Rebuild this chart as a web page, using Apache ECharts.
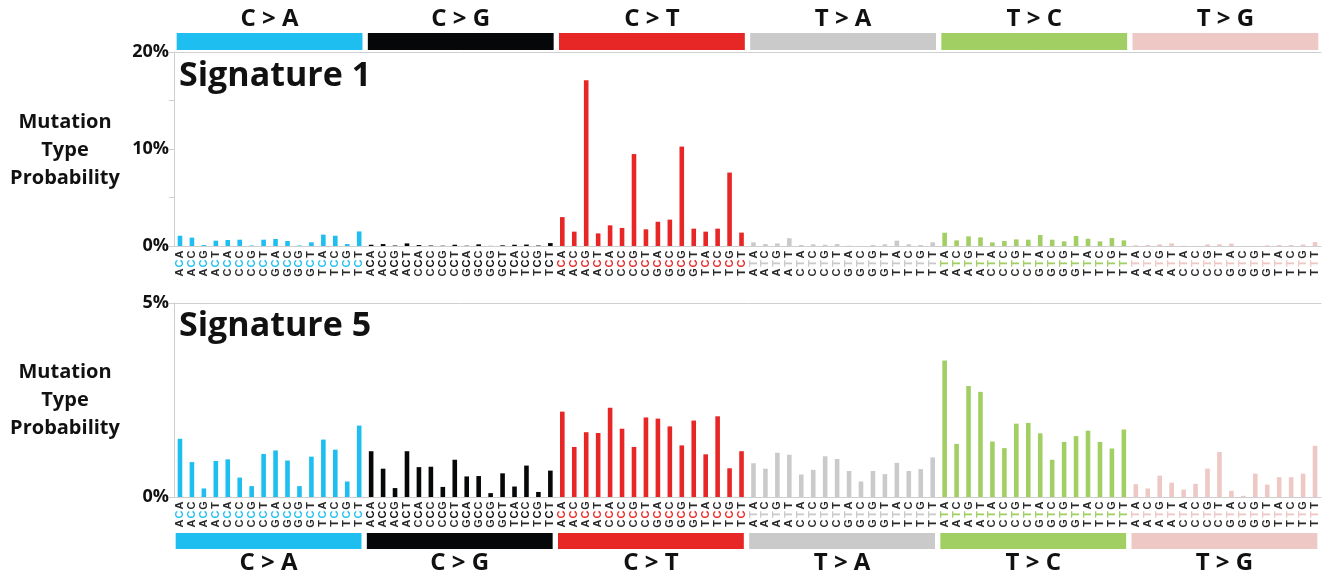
<!DOCTYPE html>
<html><head><meta charset="utf-8">
<script src="https://cdn.jsdelivr.net/npm/echarts@6/dist/echarts.min.js"></script>
<style>html,body{margin:0;padding:0;background:#fff}#c{width:1334px;height:580px}</style>
</head><body><div id="c"></div>
<script>
const mutationTypes = ['C>A','C>G','C>T','T>A','T>C','T>G'];
const typeLabels = ['C > A','C > G','C > T','T > A','T > C','T > G'];
const fivePrime = ['A','C','G','T'];
const threePrime = ['A','C','G','T'];
const headerValues = [1,1,1,1,1,1];
// Signature 1 (percent)
const sig1 = [
1.06,0.86,0.10,0.55,0.62,0.65,0.05,0.65,0.72,0.52,0.05,0.38,1.17,1.06,0.20,1.50,
0.13,0.20,0.05,0.27,0.10,0.05,0.03,0.13,0.03,0.17,0.01,0.07,0.13,0.15,0.05,0.30,
2.98,1.48,17.1,1.30,2.13,1.86,9.48,1.72,2.50,2.72,10.25,1.79,1.48,1.79,7.57,1.38,
0.38,0.20,0.27,0.80,0.10,0.17,0.13,0.20,0.03,0.01,0.10,0.17,0.55,0.17,0.10,0.38,
1.37,0.58,0.99,0.89,0.37,0.52,0.68,0.65,1.13,0.65,0.48,1.03,0.75,0.48,0.82,0.58,
0.08,0.10,0.17,0.27,0.03,0.01,0.17,0.17,0.24,0.01,0.01,0.07,0.10,0.10,0.15,0.40];
// Signature 5 (percent)
const sig5 = [
1.50,0.90,0.22,0.93,0.97,0.50,0.28,1.11,1.20,0.94,0.28,1.04,1.48,1.22,0.40,1.84,
1.18,0.73,0.23,1.18,0.77,0.78,0.26,0.96,0.53,0.54,0.10,0.61,0.27,0.81,0.13,0.68,
2.20,1.29,1.67,1.65,2.30,1.76,1.29,2.05,2.02,1.82,1.33,1.97,1.10,2.08,0.74,1.18,
0.87,0.73,1.14,1.09,0.58,0.70,1.05,0.98,0.67,0.40,0.67,0.59,0.88,0.67,0.72,1.02,
3.52,1.37,2.86,2.71,1.43,1.26,1.89,1.91,1.64,0.96,1.42,1.57,1.71,1.42,1.25,1.74,
0.33,0.22,0.55,0.37,0.19,0.34,0.73,1.16,0.16,0.03,0.60,0.32,0.51,0.51,0.60,1.32];

const typeColors = ['#1ebff0','#050708','#e62725','#cbcacb','#a1cf64','#edc8c5'];
const contexts = [], contextType = [];
mutationTypes.forEach((t, ti) => {
  fivePrime.forEach(a => { threePrime.forEach(b => { contexts.push(a + t[0] + b); contextType.push(ti); }); });
});

const FONT = '"Open Sans", "Noto Sans", sans-serif';
const LBLFONT = '"Liberation Sans", Arial, sans-serif';
const axisGray = '#cfcfcf';
const rich = { o: { color: '#2a2a2a', width: 9, align: 'center', fontFamily: LBLFONT, fontWeight: 'bold', fontSize: 11 } };
typeColors.forEach((c, i) => { rich['m' + i] = { color: c, width: 9, align: 'center', fontFamily: LBLFONT, fontWeight: 'bold', fontSize: 11 }; });

function ctxAxis(gridIndex) {
  return {
    gridIndex, type: 'category', data: contexts, position: 'bottom',
    axisLine: { show: true, lineStyle: { color: axisGray, width: 1 } },
    axisTick: { show: false },
    axisLabel: {
      interval: 0, rotate: 90, margin: 4,
      formatter: (v, i) => `{o|${v[0]}}{m${contextType[i]}|${v[1]}}{o|${v[2]}}`,
      rich
    }
  };
}
function topAxis(gridIndex) {
  return { gridIndex, type: 'category', data: contexts, position: 'top',
    axisLine: { show: true, lineStyle: { color: axisGray } }, axisTick: { show: false }, axisLabel: { show: false } };
}
function valAxis(gridIndex, max, interval, labelEvery) {
  return {
    gridIndex, type: 'value', min: 0, max, interval,
    axisLine: { show: true, lineStyle: { color: axisGray } },
    axisTick: { show: true, length: 5, lineStyle: { color: axisGray } },
    splitLine: { show: false },
    axisLabel: { margin: 5, color: '#111', fontWeight: 'bold', fontSize: 18, fontFamily: FONT,
      formatter: v => (Math.abs(v % labelEvery) < 1e-9 ? v + '%' : '') }
  };
}
function barData(vals) {
  return vals.map((v, i) => ({ value: v, itemStyle: { color: typeColors[contextType[i]] } }));
}
function headerData() {
  return headerValues.map((v, i) => ({ value: v, itemStyle: { color: typeColors[i] } }));
}
const sideLabel = (y) => ({ type: 'text', x: 65, y, style: { text: 'Mutation\nType\nProbability', align: 'center', verticalAlign: 'middle', textAlign: 'center', textVerticalAlign: 'middle', font: 'bold 20px ' + FONT, lineHeight: 28, fill: '#111' } });
const sigTitle = (txt, y) => ({ type: 'text', x: 179, y, style: { text: txt, verticalAlign: 'middle', textVerticalAlign: 'middle', font: 'bold 34px ' + FONT, fill: '#111' } });

const chart = echarts.init(document.getElementById('c'));
chart.setOption({
  animation: false,
  backgroundColor: '#fff',
  grid: [
    { left: 174, right: 13, top: 52, height: 194 },
    { left: 174, right: 13, top: 303, height: 194 },
    { left: 174, right: 13, top: 33, height: 17 },
    { left: 173, right: 14, top: 533, height: 16 }
  ],
  xAxis: [
    ctxAxis(0), topAxis(0), ctxAxis(1), topAxis(1),
    { gridIndex: 2, type: 'category', data: mutationTypes, show: false },
    { gridIndex: 3, type: 'category', data: mutationTypes, show: false }
  ],
  yAxis: [
    valAxis(0, 20, 5, 10),
    valAxis(1, 5, 5, 5),
    { gridIndex: 2, type: 'value', min: 0, max: 1, show: false },
    { gridIndex: 3, type: 'value', min: 0, max: 1, show: false }
  ],
  series: [
    { type: 'bar', xAxisIndex: 0, yAxisIndex: 0, data: barData(sig1), barWidth: 4.6, silent: true },
    { type: 'bar', xAxisIndex: 2, yAxisIndex: 1, data: barData(sig5), barWidth: 4.6, silent: true },
    { type: 'bar', xAxisIndex: 4, yAxisIndex: 2, data: headerData(), barCategoryGap: '2.8%', silent: true,
      label: { show: true, position: 'top', distance: 2, formatter: p => typeLabels[p.dataIndex], color: '#111', fontWeight: 'bold', fontSize: 24, fontFamily: FONT } },
    { type: 'bar', xAxisIndex: 5, yAxisIndex: 3, data: headerData(), barCategoryGap: '2.8%', silent: true,
      label: { show: true, position: 'bottom', distance: 2, formatter: p => typeLabels[p.dataIndex], color: '#111', fontWeight: 'bold', fontSize: 24, fontFamily: FONT } }
  ],
  graphic: [
    sigTitle('Signature 1', 76), sigTitle('Signature 5', 326),
    sideLabel(150), sideLabel(400)
  ]
});
</script></body></html>
